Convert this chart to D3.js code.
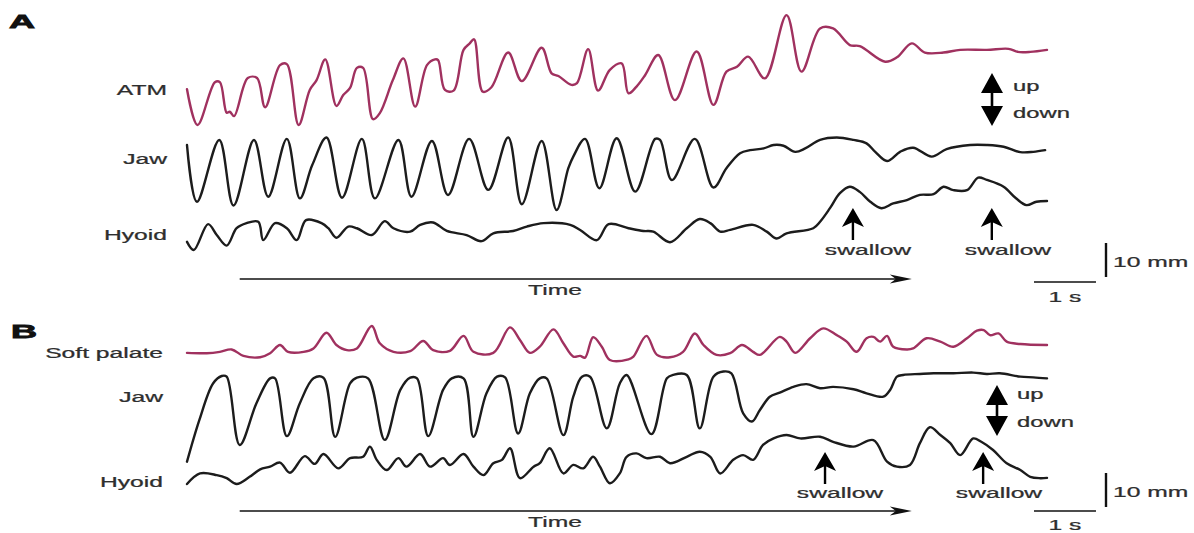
<!DOCTYPE html>
<html><head><meta charset="utf-8">
<script src="https://cdn.jsdelivr.net/npm/d3@7"></script>
<style>body{margin:0;background:#fff}svg{display:block}</style>
</head><body><svg id="c" width="1194" height="533"></svg>
<script>
// ---- DATA: [time (s), displacement (mm)] ----
const atmA = [[0.00,10.8],[0.17,0.3],[0.45,12.9],[0.53,12.9],[0.64,3.9],[0.69,4.2],[0.76,2.9],[0.98,14.1],[1.13,14.1],[1.26,5.5],[1.50,17.9],[1.61,18.2],[1.80,0.3],[1.98,10.6],[2.09,13.5],[2.23,19.6],[2.41,5.9],[2.52,9.1],[2.63,11.2],[2.74,17.1],[2.84,17.1],[3.00,2.0],[3.11,3.8],[3.32,13.5],[3.49,19.9],[3.68,5.7],[3.87,17.9],[4.00,19.6],[4.05,19.4],[4.16,10.6],[4.30,10.4],[4.46,22.4],[4.56,24.3],[4.63,25.5],[4.77,10.1],[4.91,11.4],[5.18,21.6],[5.40,13.2],[5.72,23.0],[5.88,15.5],[5.99,14.7],[6.20,12.1],[6.29,12.6],[6.47,22.6],[6.63,10.4],[6.82,16.5],[7.01,18.4],[7.12,9.6],[7.25,11.6],[7.39,15.0],[7.60,20.9],[7.87,7.6],[8.22,21.9],[8.49,6.2],[8.70,16.0],[8.87,17.4],[9.05,20.4],[9.32,14.0],[9.67,32.6],[9.91,16.0],[10.21,28.7],[10.42,28.7],[10.69,23.8],[10.85,23.5],[11.26,18.9],[11.45,20.2],[11.69,24.3],[11.90,21.6],[12.20,21.6],[12.47,22.4],[12.90,22.4],[13.25,22.7],[13.40,21.8],[13.60,21.8],[13.87,22.4]];
const jawA = [[0.00,19.4],[0.16,2.7],[0.52,20.9],[0.75,1.6],[1.08,20.9],[1.31,4.2],[1.61,21.2],[1.82,3.7],[2.02,13.5],[2.25,21.6],[2.50,3.9],[2.82,21.2],[3.03,3.7],[3.41,20.9],[3.62,4.2],[3.95,20.6],[4.21,4.7],[4.55,21.2],[4.86,6.2],[5.18,21.6],[5.40,2.0],[5.72,20.6],[5.96,0.3],[6.15,12.6],[6.23,16.0],[6.42,21.2],[6.65,6.7],[6.93,21.4],[7.23,5.7],[7.55,21.2],[7.63,20.9],[7.82,9.1],[8.19,21.2],[8.49,6.9],[8.70,12.6],[8.92,17.0],[9.08,17.9],[9.30,18.4],[9.46,19.4],[9.62,19.2],[9.81,17.4],[9.97,18.4],[10.21,20.9],[10.48,21.6],[10.75,20.9],[10.96,19.9],[11.10,17.4],[11.29,14.7],[11.50,17.4],[11.71,18.6],[12.01,16.0],[12.25,18.2],[12.63,19.4],[12.90,19.4],[13.17,18.9],[13.44,17.3],[13.65,17.4],[13.84,17.9]];
const hyoidA = [[0.00,2.4],[0.11,0.0],[0.34,7.6],[0.48,4.4],[0.64,1.3],[0.80,6.4],[0.96,7.9],[1.15,8.3],[1.23,2.9],[1.42,7.9],[1.61,6.4],[1.77,2.9],[1.92,8.8],[2.17,7.9],[2.28,6.4],[2.41,3.6],[2.60,6.9],[2.74,6.4],[2.98,4.4],[3.19,8.5],[3.33,6.4],[3.60,5.4],[3.76,7.4],[3.97,8.1],[4.19,5.6],[4.51,4.4],[4.75,2.6],[4.94,4.9],[5.26,5.6],[5.48,6.9],[5.75,7.9],[6.18,7.4],[6.34,5.9],[6.61,2.9],[6.80,7.6],[7.12,6.4],[7.36,5.6],[7.52,5.4],[7.79,2.3],[8.06,6.4],[8.27,9.1],[8.44,7.9],[8.60,5.4],[8.76,5.9],[9.13,7.4],[9.35,5.4],[9.51,3.4],[9.67,4.9],[10.10,6.4],[10.21,8.3],[10.37,12.3],[10.53,16.7],[10.69,18.6],[10.85,17.1],[11.02,14.2],[11.20,12.3],[11.39,13.7],[11.61,14.7],[11.82,16.2],[12.04,16.4],[12.20,18.6],[12.36,17.6],[12.58,17.6],[12.76,21.3],[12.90,20.6],[13.17,18.6],[13.37,15.2],[13.54,13.2],[13.70,14.2],[13.87,14.4]];
const softB = [[0.00,2.4],[0.32,2.3],[0.53,2.7],[0.72,3.4],[0.91,1.5],[1.18,1.1],[1.34,2.3],[1.50,4.7],[1.63,2.7],[1.88,2.7],[2.04,3.7],[2.25,8.3],[2.41,4.7],[2.58,3.2],[2.74,3.7],[2.98,10.3],[3.11,5.2],[3.33,2.7],[3.60,2.9],[3.81,5.9],[3.97,3.2],[4.24,3.0],[4.46,7.4],[4.62,2.7],[4.94,2.4],[5.21,9.9],[5.37,6.2],[5.53,2.4],[5.69,4.2],[5.91,9.3],[6.07,5.2],[6.23,1.3],[6.34,1.5],[6.42,1.0],[6.55,7.0],[6.69,4.2],[6.82,0.3],[7.12,0.5],[7.20,1.3],[7.41,7.4],[7.58,1.8],[7.79,1.1],[8.00,2.7],[8.19,8.1],[8.33,4.7],[8.54,1.8],[8.76,2.3],[8.95,4.7],[9.13,2.7],[9.24,1.8],[9.56,7.1],[9.67,5.7],[9.81,2.4],[10.05,6.7],[10.26,9.6],[10.48,7.6],[10.64,5.7],[10.80,2.7],[10.96,6.7],[11.07,7.1],[11.18,5.7],[11.29,7.4],[11.39,4.2],[11.61,3.4],[11.71,3.7],[11.93,6.7],[12.15,5.7],[12.36,4.2],[12.58,6.7],[12.74,8.9],[12.85,9.1],[12.95,7.6],[13.09,8.1],[13.22,5.7],[13.44,5.0],[13.87,4.7]];
const jawB = [[0.00,0.1],[0.20,12.4],[0.42,23.1],[0.56,25.3],[0.64,25.1],[0.85,5.0],[1.12,17.3],[1.34,24.6],[1.42,24.6],[1.61,7.6],[1.82,17.3],[2.04,24.6],[2.20,24.8],[2.39,7.4],[2.63,23.1],[2.74,24.8],[2.92,24.6],[3.19,6.5],[3.44,21.2],[3.60,24.8],[3.71,24.6],[3.89,7.6],[4.13,21.2],[4.27,24.6],[4.46,24.6],[4.62,7.4],[4.83,20.2],[5.00,25.1],[5.13,24.9],[5.34,8.4],[5.53,20.2],[5.69,24.6],[5.80,24.6],[6.07,7.9],[6.23,19.2],[6.37,25.1],[6.50,25.1],[6.77,9.9],[6.98,23.1],[7.09,25.6],[7.49,8.2],[7.74,24.6],[7.84,25.6],[8.06,25.6],[8.27,9.9],[8.49,25.1],[8.65,26.6],[8.78,26.1],[8.97,14.3],[9.11,11.9],[9.24,15.3],[9.40,19.2],[9.56,20.4],[9.78,22.1],[9.99,22.9],[10.21,21.7],[10.42,22.1],[10.75,21.4],[10.96,20.2],[11.23,19.2],[11.34,21.2],[11.45,25.1],[11.55,25.6],[11.82,25.9],[12.04,26.1],[12.36,26.1],[12.68,26.3],[12.90,25.9],[13.11,26.1],[13.44,25.1],[13.65,24.9],[13.87,24.6]];
const hyoidB = [[0.00,0.3],[0.21,3.4],[0.48,2.9],[0.64,2.0],[0.80,0.3],[1.01,2.4],[1.18,4.6],[1.34,5.4],[1.50,6.6],[1.66,3.6],[1.90,8.5],[2.06,6.2],[2.20,9.1],[2.44,4.9],[2.63,7.9],[2.84,8.3],[2.95,11.3],[3.06,7.4],[3.22,4.4],[3.41,7.9],[3.54,5.4],[3.76,9.1],[3.92,5.4],[4.13,7.9],[4.24,5.9],[4.46,9.1],[4.62,5.4],[4.78,2.9],[4.94,6.4],[5.08,7.4],[5.21,10.8],[5.37,2.0],[5.59,5.4],[5.69,6.4],[5.85,10.8],[6.07,3.4],[6.23,5.9],[6.39,4.9],[6.55,8.3],[6.66,5.4],[6.82,0.5],[6.98,3.4],[7.09,8.3],[7.25,9.3],[7.41,7.9],[7.63,8.3],[7.79,6.4],[8.06,8.3],[8.27,9.8],[8.44,8.3],[8.60,3.4],[8.81,7.4],[8.97,8.8],[9.13,7.4],[9.29,11.8],[9.46,13.7],[9.67,14.7],[9.89,13.7],[10.21,14.2],[10.42,12.7],[10.75,11.3],[11.07,13.2],[11.29,6.9],[11.45,5.4],[11.66,5.9],[11.82,12.3],[11.98,17.0],[12.15,14.7],[12.31,12.3],[12.47,8.8],[12.68,13.7],[12.81,12.7],[13.00,10.3],[13.22,6.4],[13.44,4.4],[13.60,2.4],[13.76,2.0],[13.87,2.1]];
const swallowA = [10.74, 12.98];
const swallowB = [10.29, 12.84];
const traceLabelsA = ["ATM","Jaw","Hyoid"];
const traceLabelsB = ["Soft palate","Jaw","Hyoid"];
const scaleLabels = {mm:"10 mm", s:"1 s", time:"Time", up:"up", down:"down", swallow:"swallow"};

// ---- LAYOUT ----
const svg = d3.select("#c");
const x = d3.scaleLinear().domain([0, 13.87]).range([187, 1047]);
const PXMM = 3.4;
const magenta = "#a0315f", black = "#1c1c1c", txt = "#2e2e2e";
const FONT = "Liberation Sans, Arial, sans-serif";

function yScale(base){ return d3.scaleLinear().domain([0,10]).range([base, base-10*PXMM]); }
const line = (ys) => d3.line().x(d=>x(d[0])).y(d=>ys(d[1])).curve(d3.curveCatmullRom.alpha(0.5));

const traces = [
  {data: atmA, base: 126, color: magenta},
  {data: jawA, base: 211, color: black},
  {data: hyoidA, base: 250, color: black},
  {data: softB, base: 361, color: magenta},
  {data: jawB, base: 462, color: black},
  {data: hyoidB, base: 485, color: black}
];
svg.append("g").selectAll("path").data(traces).join("path")
  .attr("d", t => line(yScale(t.base))(t.data))
  .attr("fill","none").attr("stroke", t=>t.color).attr("stroke-width",2.4)
  .attr("stroke-linejoin","round").attr("stroke-linecap","round");

function label(px, py, str, anchor, size, weight, sx){
  svg.append("g").attr("transform",`translate(${px},${py}) scale(${sx||1.7},1)`)
    .append("text").text(str).attr("text-anchor",anchor||"start")
    .attr("font-family",FONT).attr("font-size",size||14.5).attr("font-weight",weight||"normal")
    .attr("fill", weight==="bold" ? "#111" : txt)
    .attr("stroke", weight==="bold" ? "#111" : txt).attr("stroke-width", weight==="bold" ? 0.8 : 0.25);
}

// panel letters
label(9, 28, "A", "start", 19, "bold", 1.9);
label(11, 338, "B", "start", 19, "bold", 1.9);
// trace labels
label(167, 95, traceLabelsA[0], "end");
label(167, 164, traceLabelsA[1], "end");
label(167, 240, traceLabelsA[2], "end");
label(163, 358, traceLabelsB[0], "end");
label(163, 402, traceLabelsB[1], "end");
label(163, 487, traceLabelsB[2], "end");

// up/down double arrows
function dblArrow(cx, top, bot){
  const hw = 11, hh = 20;
  const p = d3.path();
  p.moveTo(cx, top); p.lineTo(cx+hw, top+hh); p.lineTo(cx-hw, top+hh); p.closePath();
  p.moveTo(cx, bot); p.lineTo(cx+hw, bot-hh); p.lineTo(cx-hw, bot-hh); p.closePath();
  svg.append("path").attr("d", p.toString()).attr("fill","#000");
  svg.append("line").attr("x1",cx).attr("x2",cx).attr("y1",top+hh-2).attr("y2",bot-hh+2)
    .attr("stroke","#000").attr("stroke-width",2.6);
}
dblArrow(992, 73, 126);
label(1013, 91, scaleLabels.up, "start", 14);
label(1013, 118, scaleLabels.down, "start", 14);
dblArrow(997, 385, 436);
label(1017, 399, scaleLabels.up, "start", 14);
label(1017, 427, scaleLabels.down, "start", 14);

// swallow arrows
function upArrow(cx, tip, tail){
  const hw = 11, hh = 19;
  const p = d3.path();
  p.moveTo(cx, tip); p.lineTo(cx+hw, tip+hh); p.lineTo(cx, tip+hh-5); p.lineTo(cx-hw, tip+hh); p.closePath();
  svg.append("path").attr("d", p.toString()).attr("fill","#000");
  svg.append("line").attr("x1",cx).attr("x2",cx).attr("y1",tip+hh-6).attr("y2",tail)
    .attr("stroke","#000").attr("stroke-width",2.4);
}
swallowA.forEach(t => upArrow(x(t), 208, 240));
label(868, 255, scaleLabels.swallow, "middle");
label(1008, 255, scaleLabels.swallow, "middle");
swallowB.forEach(t => upArrow(x(t), 452, 484));
label(840, 498, scaleLabels.swallow, "middle");
label(999, 498, scaleLabels.swallow, "middle");

// Time arrows
function timeArrow(t0, t1, y){
  const x0 = x(t0), x1 = x(t1);
  svg.append("line").attr("x1",x0).attr("x2",x1-14).attr("y1",y).attr("y2",y)
    .attr("stroke","#111").attr("stroke-width",1.4);
  svg.append("path").attr("d",`M${x1},${y}L${x1-22},${y-4.5}L${x1-16},${y}L${x1-22},${y+4.5}Z`).attr("fill","#111");
}
timeArrow(0.85, 11.69, 279);
label(555, 295, scaleLabels.time, "middle");
timeArrow(0.85, 11.69, 511);
label(555, 527, scaleLabels.time, "middle");

// scale bars
function scaleBars(yTop, yH, textY1, textY2){
  const ys = yScale(yTop + 10*PXMM);
  svg.append("line").attr("x1",1106).attr("x2",1106).attr("y1",ys(0)).attr("y2",ys(10))
    .attr("stroke","#111").attr("stroke-width",2.4);
  label(1113, textY1, scaleLabels.mm, "start");
  svg.append("line").attr("x1",x(13.66)).attr("x2",x(14.66)).attr("y1",yH).attr("y2",yH)
    .attr("stroke","#111").attr("stroke-width",1.4);
  label((x(13.66)+x(14.66))/2, textY2, scaleLabels.s, "middle");
}
scaleBars(243, 282, 267, 302);
scaleBars(473, 511, 497, 530);
</script></body></html>
